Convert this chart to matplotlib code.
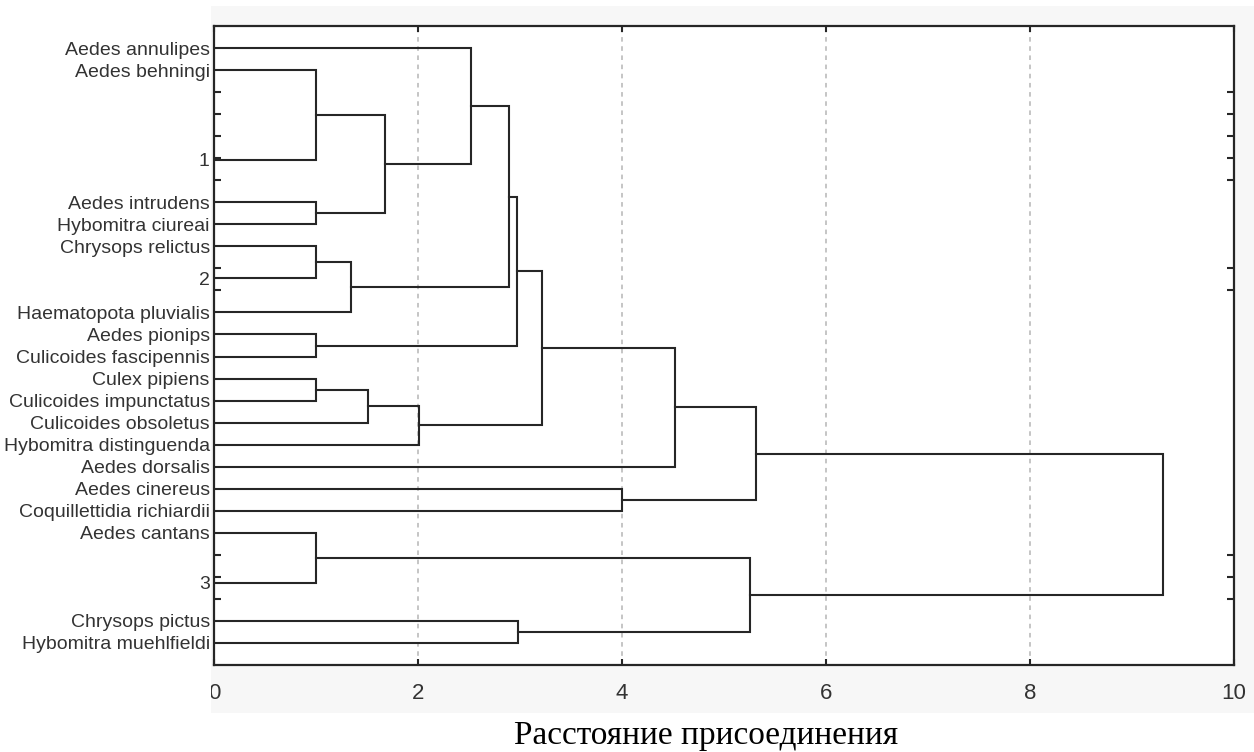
import matplotlib
matplotlib.use("Agg")
import matplotlib.pyplot as plt
from matplotlib.patches import Rectangle

# leaves, top to bottom, with their slot on the leaf axis
leaf_names = ["Aedes annulipes", "Aedes behningi", "1", "Aedes intrudens",
              "Hybomitra ciureai", "Chrysops relictus", "2", "Haematopota pluvialis",
              "Aedes pionips", "Culicoides fascipennis", "Culex pipiens",
              "Culicoides impunctatus", "Culicoides obsoletus", "Hybomitra distinguenda",
              "Aedes dorsalis", "Aedes cinereus", "Coquillettidia richiardii",
              "Aedes cantans", "3", "Chrysops pictus", "Hybomitra muehlfieldi"]
leaf_slots = [0, 1, 5.08, 7, 8, 9, 10.44, 12, 13, 14, 15, 16, 17, 18, 19, 20, 21,
              22, 24.27, 26, 27]
n_slots = 28

# merges: (child a, child b, linkage distance); children are leaf names or node ids
merges = [
    ("Aedes behningi", "1", 1.0),                          # A
    ("Aedes intrudens", "Hybomitra ciureai", 1.0),         # B
    ("A", "B", 1.68),                                      # C
    ("Aedes annulipes", "C", 2.52),                        # D
    ("Chrysops relictus", "2", 1.0),                       # E
    ("E", "Haematopota pluvialis", 1.34),                  # F
    ("D", "F", 2.89),                                      # G
    ("Aedes pionips", "Culicoides fascipennis", 1.0),      # H
    ("G", "H", 2.97),                                      # I
    ("Culex pipiens", "Culicoides impunctatus", 1.0),      # J
    ("J", "Culicoides obsoletus", 1.51),                   # K
    ("K", "Hybomitra distinguenda", 2.01),                 # L
    ("I", "L", 3.22),                                      # M
    ("M", "Aedes dorsalis", 4.52),                         # N
    ("Aedes cinereus", "Coquillettidia richiardii", 4.0),  # O
    ("N", "O", 5.31),                                      # P
    ("Aedes cantans", "3", 1.0),                           # Q
    ("Chrysops pictus", "Hybomitra muehlfieldi", 2.98),    # R
    ("Q", "R", 5.25),                                      # S
    ("P", "S", 9.30),                                      # root
]
node_ids = "ABCDEFGHIJKLMNOPQRS"

xlabel = "Расстояние присоединения"
xticks = [0, 2, 4, 6, 8, 10]

line_col = "#262626"
fig = plt.figure(figsize=(12.54, 7.52), dpi=100)

# faint grey backdrop of the original screenshot
bg = Rectangle((211 / 1254, 39 / 752), 1 - 211 / 1254, 707 / 752,
               transform=fig.transFigure, facecolor="#f7f7f7", edgecolor="none", zorder=-10)
fig.patches.append(bg)

ax = fig.add_axes([214 / 1254, 87 / 752, 1020 / 1254, 639 / 752])
ax.set_facecolor("white")

pos = {name: (slot, 0.0) for name, slot in zip(leaf_names, leaf_slots)}
for nid, (a, b, h) in zip(node_ids + "*", merges):
    ya, ha = pos[a]
    yb, hb = pos[b]
    ax.plot([ha, h, h, hb], [ya, ya, yb, yb], color=line_col, lw=1.5,
            solid_joinstyle="miter", zorder=3)
    pos[nid] = ((ya + yb) / 2, h)

ax.set_xlim(0, 10)
ax.set_ylim(28, -1)

ax.set_xticks(xticks)
ax.set_xticklabels([str(t) for t in xticks], fontsize=16, color="#333333",
                   family="Liberation Sans")
ax.tick_params(axis="x", direction="in", length=4, width=1.5, pad=13,
               top=True, color=line_col)
ax.grid(axis="x", color="#b5b5b5", linestyle=(0, (3, 3)), lw=1.1)

ax.set_yticks(leaf_slots)
ax.set_yticklabels(leaf_names, fontsize=14, color="#333333", family="Liberation Sans")
ax.tick_params(axis="y", direction="in", length=0, pad=3)
ax.set_yticks(range(n_slots), minor=True)
ax.tick_params(axis="y", which="minor", direction="in", length=5, width=1.5,
               right=True, color=line_col)

for s in ax.spines.values():
    s.set_linewidth(1.6)
    s.set_color(line_col)

fig.canvas.draw()
for lbl in ax.get_xticklabels():
    lbl.set_clip_path(bg)

fig.text(706 / 1254, 1 - 736 / 752, xlabel, ha="center", va="center",
         fontsize=24, family="Liberation Serif", color="black")

fig.savefig("out.png", dpi=100)
